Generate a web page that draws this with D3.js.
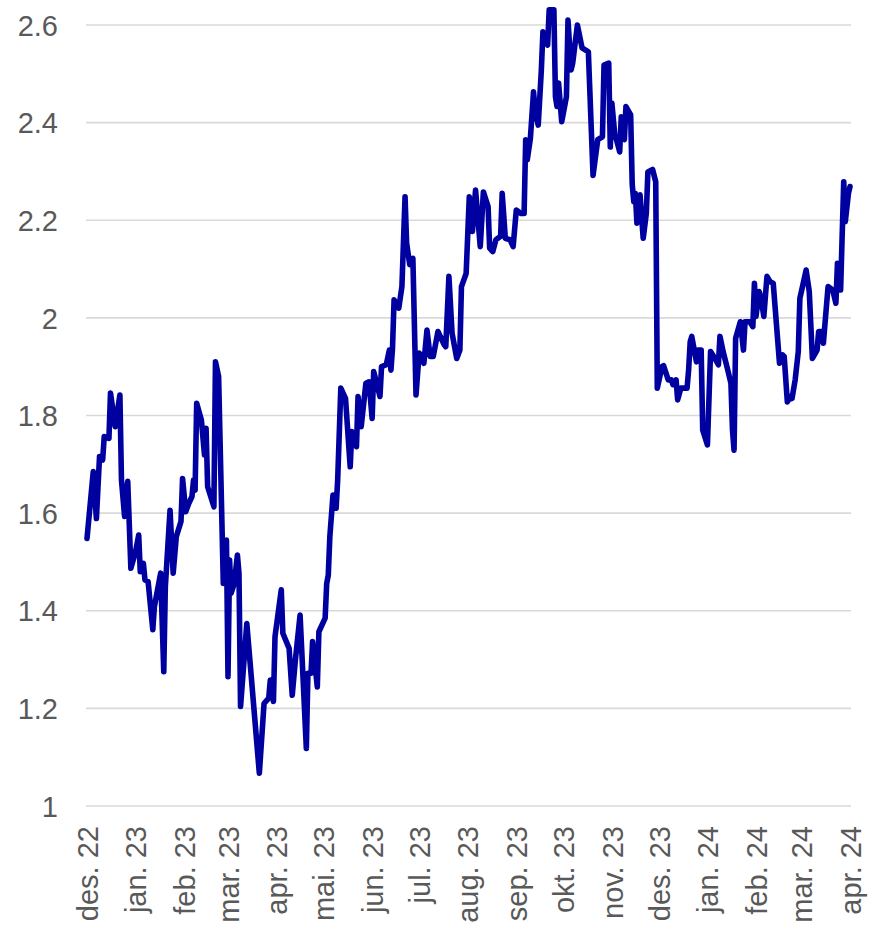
<!DOCTYPE html>
<html>
<head>
<meta charset="utf-8">
<script src="https://cdn.jsdelivr.net/npm/d3@7"></script>
<style>
  html, body { margin: 0; padding: 0; background: #fff; }
  svg { display: block; }
  text { font-family: "Liberation Sans", Arial, sans-serif; fill: #595959; }
</style>
</head>
<body>
<svg id="chart" width="871" height="931"></svg>
<script>
// ---- data ----
const startDate = "2022-12-01";
// days since start date
const dayOffsets = [
  0,4,6,8,10,11,14,15,18,21,22,24,26,28,31,33,34,36,37,39,
  42,43,47,49,50,53,55,57,60,61,63,65,67,68,69,70,73,75,76,77,
  81,82,84,87,89,90,91,92,94,96,97,98,102,110,113,116,117,119,120,124,
  125,129,131,133,136,140,141,143,144,147,148,152,153,154,155,157,159,160,162,165,
  168,169,172,173,175,178,180,182,183,187,188,191,193,194,195,196,199,201,203,204,
  206,208,210,212,215,217,219,221,224,228,229,231,233,236,238,239,242,244,246,248,
  251,253,256,257,259,261,264,265,267,270,272,274,277,279,280,281,283,285,286,288,
  290,291,294,295,298,299,300,301,303,306,307,309,310,313,316,320,323,326,329,330,
  333,334,335,337,338,340,341,343,344,347,348,349,350,351,353,355,357,358,361,363,
  364,367,368,371,373,374,376,377,379,383,384,385,386,389,390,392,393,396,398,400,
  403,404,406,409,411,412,413,414,417,419,420,423,425,426,427,429,430,432,434,436,
  438,442,444,445,447,449,450,452,454,455,459,461,463,466,467,469,470,473,476,478,
  479,481,483,484,486,487
];
const values = [
  1.548,1.685,1.589,1.716,1.709,1.757,1.753,1.846,1.777,1.842,1.668,1.593,1.665,1.487,1.521,1.555,1.480,1.497,1.463,1.460,
  1.361,1.408,1.477,1.275,1.449,1.606,1.477,1.552,1.583,1.671,1.603,1.620,1.634,1.668,1.647,1.825,1.791,1.719,1.774,1.654,
  1.613,1.910,1.880,1.456,1.545,1.265,1.504,1.436,1.456,1.514,1.477,1.204,1.374,1.067,1.210,1.221,1.258,1.214,1.347,1.443,
  1.354,1.323,1.227,1.299,1.391,1.118,1.272,1.272,1.337,1.244,1.357,1.385,1.456,1.473,1.552,1.637,1.610,1.668,1.856,1.835,
  1.695,1.767,1.736,1.839,1.777,1.866,1.869,1.794,1.890,1.839,1.900,1.904,1.934,1.893,1.938,2.037,2.020,2.064,2.248,2.153,
  2.109,2.122,1.842,1.928,1.907,1.975,1.921,1.921,1.972,1.945,1.941,2.085,1.969,1.917,1.934,2.064,2.091,2.248,2.177,2.262,
  2.146,2.258,2.228,2.143,2.136,2.160,2.167,2.255,2.163,2.160,2.146,2.221,2.214,2.214,2.365,2.324,2.368,2.463,2.426,2.395,
  2.508,2.586,2.559,2.631,2.631,2.453,2.433,2.481,2.402,2.453,2.610,2.508,2.522,2.600,2.553,2.545,2.292,2.365,2.371,2.518,
  2.522,2.350,2.440,2.371,2.365,2.340,2.412,2.365,2.433,2.416,2.273,2.238,2.255,2.194,2.252,2.163,2.214,2.299,2.304,2.279,
  1.856,1.900,1.902,1.873,1.873,1.863,1.873,1.832,1.856,1.856,1.893,1.951,1.962,1.910,1.934,1.934,1.770,1.740,1.931,1.921,
  1.904,1.962,1.931,1.893,1.866,1.770,1.729,1.958,1.992,1.934,1.992,1.992,1.982,2.071,2.003,2.054,2.044,2.003,2.085,2.074,
  2.071,1.907,1.924,1.921,1.828,1.839,1.835,1.873,1.931,2.040,2.098,2.054,1.917,1.934,1.972,1.972,1.948,2.064,2.057,2.030,
  2.112,2.057,2.279,2.197,2.255,2.269
];
const monthTicks = ["2022-12-01","2023-01-01","2023-02-01","2023-03-01","2023-04-01","2023-05-01","2023-06-01","2023-07-01",
  "2023-08-01","2023-09-01","2023-10-01","2023-11-01","2023-12-01","2024-01-01","2024-02-01","2024-03-01","2024-04-01"];
const monthLabels = ["des. 22","jan. 23","feb. 23","mar. 23","apr. 23","mai. 23","jun. 23","jul. 23",
  "aug. 23","sep. 23","okt. 23","nov. 23","des. 23","jan. 24","feb. 24","mar. 24","apr. 24"];
const yTicks = [1, 1.2, 1.4, 1.6, 1.8, 2, 2.2, 2.4, 2.6];
const yTickLabels = ["1","1.2","1.4","1.6","1.8","2","2.2","2.4","2.6"];

// ---- build ----
const parse = d3.utcParse("%Y-%m-%d");
const t0 = parse(startDate);
const series = dayOffsets.map((d, i) => ({ date: d3.utcDay.offset(t0, d), value: values[i] }));
const tickDates = monthTicks.map(parse);

const svg = d3.select("#chart");
const x = d3.scaleUtc().domain([tickDates[0], tickDates[tickDates.length - 1]]).range([87, 850]);
const y = d3.scaleLinear().domain([1, 2.6]).range([806, 25]);

// gridlines
svg.append("g").selectAll("line").data(yTicks).join("line")
  .attr("x1", 86).attr("x2", 851)
  .attr("y1", d => y(d)).attr("y2", d => y(d))
  .attr("stroke", "#d9d9d9").attr("stroke-width", 1.6);

// y axis
const yAxis = d3.axisLeft(y).tickValues(yTicks).tickFormat((d, i) => yTickLabels[i]).tickSize(0).tickPadding(0);
const gy = svg.append("g").attr("transform", "translate(58,0)").call(yAxis);
gy.select(".domain").remove();
gy.selectAll("text").style("font-size", "29px").attr("fill", "#595959")
  .attr("font-family", "Liberation Sans, Arial, sans-serif").attr("dy", "0.35em");

// x axis
const xAxis = d3.axisBottom(x).tickValues(tickDates).tickFormat((d, i) => monthLabels[i]).tickSize(0).tickPadding(0);
const gx = svg.append("g").attr("transform", "translate(0,826)").call(xAxis);
gx.select(".domain").remove();
gx.selectAll("text").style("font-size", "29px").attr("fill", "#595959")
  .attr("font-family", "Liberation Sans, Arial, sans-serif")
  .attr("text-anchor", "end").attr("transform", "rotate(-90)")
  .attr("x", 0).attr("y", 0).attr("dy", "0.35em");

// line
const line = d3.line().x(d => x(d.date)).y(d => y(d.value));
svg.append("path").datum(series)
  .attr("d", line)
  .attr("fill", "none")
  .attr("stroke", "#0000A0")
  .attr("stroke-width", 5.6)
  .attr("stroke-linejoin", "round")
  .attr("stroke-linecap", "round");
</script>
</body>
</html>
